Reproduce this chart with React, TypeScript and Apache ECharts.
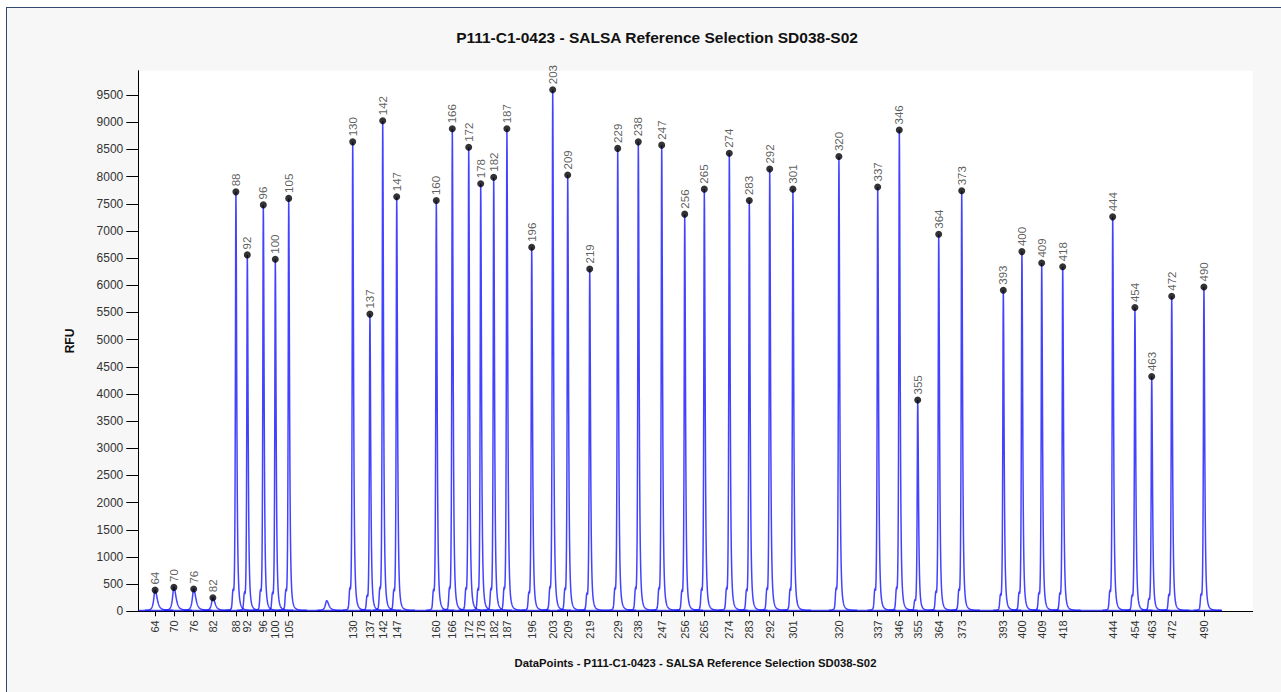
import React, { useEffect, useRef } from "react";
import * as echarts from "echarts";

// Peak sizes (labels), peak positions (data points) and peak heights (RFU)
const sizes = [64, 70, 76, 82, 88, 92, 96, 100, 105, 130, 137, 142, 147, 160, 166, 172, 178, 182, 187, 196, 203, 209, 219, 229, 238, 247, 256, 265, 274, 283, 292, 301, 320, 337, 346, 355, 364, 373, 393, 400, 409, 418, 444, 454, 463, 472, 490];
const positions = [84, 178, 277, 373, 488, 545, 625, 685, 752, 1072, 1158, 1222, 1292, 1490, 1570, 1652, 1712, 1777, 1843, 1967, 2072, 2147, 2257, 2397, 2500, 2617, 2732, 2830, 2955, 3055, 3157, 3273, 3503, 3697, 3805, 3897, 4002, 4117, 4325, 4418, 4517, 4622, 4872, 4983, 5067, 5167, 5328];
const heights = [390, 440, 410, 250, 7720, 6560, 7480, 6480, 7600, 8640, 5470, 9030, 7630, 7560, 8880, 8540, 7870, 7990, 8880, 6700, 9600, 8030, 6300, 8520, 8640, 8580, 7310, 7770, 8430, 7560, 8140, 7770, 8370, 7810, 8860, 3890, 6940, 7740, 5910, 6620, 6410, 6340, 7260, 5590, 4320, 5800, 5970];
// Unlabelled minor peak
const minorPositions = [942];
const minorHeights = [195];
// Trace baseline
const baselineLevel = 15;
const traceStart = 0;
const traceEnd = 5418;
const xMax = 5572;
const yMax = 9950;
const yTicks = [0, 500, 1000, 1500, 2000, 2500, 3000, 3500, 4000, 4500, 5000, 5500, 6000, 6500, 7000, 7500, 8000, 8500, 9000, 9500];

const TITLE = "P111-C1-0423 - SALSA Reference Selection SD038-S02";
const X_NAME = "DataPoints - P111-C1-0423 - SALSA Reference Selection SD038-S02";
const FONT = "'Liberation Sans', Arial, sans-serif";
const TRACE = "rgba(20,20,255,0.8)";

export default function App() {
  const ref = useRef<HTMLDivElement>(null);
  useEffect(() => {
    if (!ref.current) return;
    const chart = echarts.init(ref.current, null, { renderer: "svg" });
    const labelMap = new Map<number, number>();
    positions.forEach((p, i) => labelMap.set(p, sizes[i]));
    const peakData = positions.map((p, i) => [p, heights[i]]);
    const allPeaks = peakData.concat(minorPositions.map((p, i) => [p, minorHeights[i]]));

    const option: any = {
      animation: false,
      textStyle: { fontFamily: FONT },
      title: {
        text: TITLE,
        left: 652,
        top: 24,
        textAlign: "center",
        textStyle: { fontSize: 15.5, fontWeight: "bold", color: "#111", fontFamily: FONT },
      },
      grid: {
        left: 138.3,
        right: 28.3,
        top: 70.7,
        bottom: 80.7,
        show: true,
        backgroundColor: "#ffffff",
        borderWidth: 0,
        containLabel: false,
        outerBoundsMode: "none",
      },
      xAxis: {
        type: "value",
        min: 0,
        max: xMax,
        name: X_NAME,
        nameLocation: "middle",
        nameGap: 46,
        nameTextStyle: { fontWeight: "bold", fontSize: 11.3, color: "#111", fontFamily: FONT },
        axisLine: { show: true, onZero: false, lineStyle: { color: "#000", width: 1 } },
        axisTick: { show: true, length: 5, customValues: positions, lineStyle: { color: "#000" } },
        axisLabel: {
          customValues: positions,
          rotate: 90,
          margin: 9,
          fontSize: 11,
          color: "#333",
          fontFamily: FONT,
          formatter: (v: number) => String(labelMap.get(v) ?? ""),
        },
        splitLine: { show: false },
      },
      yAxis: {
        type: "value",
        min: 0,
        max: yMax,
        name: "RFU",
        nameLocation: "middle",
        nameGap: 62,
        nameTextStyle: { fontWeight: "bold", fontSize: 12, color: "#111", fontFamily: FONT },
        axisLine: { show: true, lineStyle: { color: "#000", width: 1 } },
        axisTick: { show: true, length: 12, customValues: yTicks, lineStyle: { color: "#000" } },
        axisLabel: {
          customValues: yTicks,
          margin: 15,
          fontSize: 12,
          color: "#333",
          fontFamily: FONT,
          formatter: (v: number) => String(v),
        },
        splitLine: { show: false },
      },
      series: [
        {
          type: "line",
          data: [[traceStart, baselineLevel], [traceEnd, baselineLevel]],
          symbol: "none",
          lineStyle: { color: TRACE, width: 1.4 },
          z: 3,
        },
        {
          type: "custom",
          data: allPeaks,
          encode: { x: 0, y: 1 },
          z: 3,
          renderItem: (params: any, api: any) => {
            const pos = api.value(0);
            const h = api.value(1);
            const apex = api.coord([pos, h]);
            const base = api.coord([pos, baselineLevel]);
            const hp = base[1] - apex[1];
            const wCore = h < 1000 ? 2.0 : 0.75;
            const shoulder = h >= 1000 ? Math.min(0.035 * h, 280) : 0;
            const sp = (shoulder / h) * hp;
            const pts: number[][] = [];
            const x0 = -10, x1 = 18;
            for (let dx = x0; dx <= x1 + 1e-6; dx += 0.2) {
              const w = dx < 0 ? wCore : wCore * 1.6;
              const L = 1 / (1 + (dx / w) * (dx / w));
              const core = Math.pow(L, 1.5);
              const sh = sp * Math.exp(-((dx + 3) * (dx + 3)) / (2 * 0.6 * 0.6));
              let y = base[1] - (hp * core + sh);
              if (dx === x0 || dx > x1 - 0.1) y = base[1];
              pts.push([base[0] + dx, y]);
            }
            return {
              type: "polyline",
              shape: { points: pts },
              style: { stroke: TRACE, lineWidth: 1.5, fill: "none" },
            };
          },
        },
        {
          type: "scatter",
          data: peakData,
          symbol: "circle",
          symbolSize: 7,
          itemStyle: { color: "#000" },
          z: 5,
          label: {
            show: true,
            position: "top",
            distance: 2,
            rotate: 90,
            align: "left",
            verticalAlign: "middle",
            fontSize: 11.5,
            color: "#333",
            fontFamily: FONT,
            formatter: (p: any) => String(sizes[p.dataIndex]),
          },
        },
      ],
    };
    chart.setOption(option);
    return () => chart.dispose();
  }, []);

  return (
    <div style={{ position: "fixed", left: 0, top: 0, width: 1281, height: 692, background: "#ffffff", overflow: "hidden" }}>
      <div
        style={{
          position: "absolute",
          left: 6,
          top: 7,
          width: 1400,
          height: 800,
          background: "#f7f7f7",
          borderLeft: "1.5px solid #2e4a72",
          borderTop: "1.5px solid #2e4a72",
        }}
      />
      <div ref={ref} style={{ position: "absolute", left: 0, top: 0, width: 1281, height: 692 }} />
    </div>
  );
}
